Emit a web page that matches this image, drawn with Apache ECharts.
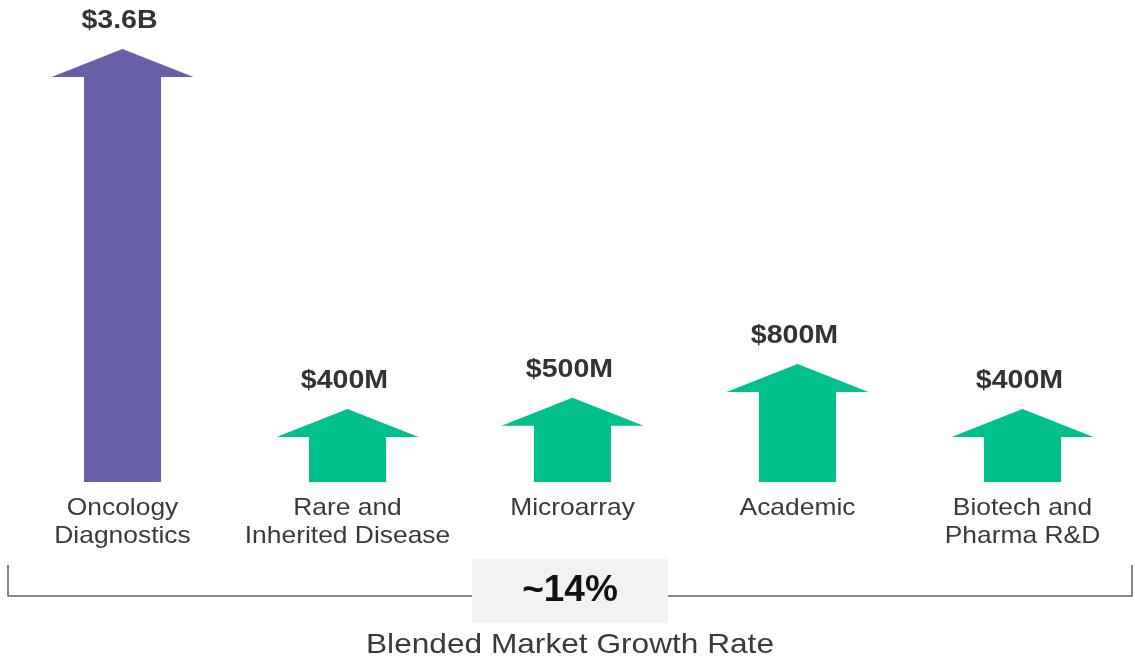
<!DOCTYPE html>
<html>
<head>
<meta charset="utf-8">
<script src="https://cdn.jsdelivr.net/npm/echarts@6/dist/echarts.min.js"></script>
<style>
html,body{margin:0;padding:0;background:#fff;}
#chart{width:1135px;height:660px;}
</style>
</head>
<body>
<div id="chart"></div>
<script>
// Data
const categories = ['Oncology\nDiagnostics', 'Rare and\nInherited Disease', 'Microarray', 'Academic', 'Biotech and\nPharma R&D'];
const values = [3600, 400, 500, 800, 400]; // market size, $M
const valueLabels = ['$3.6B', '$400M', '$500M', '$800M', '$400M'];
const growthRate = '~14%';
const footerText = 'Blended Market Growth Rate';

const PURPLE = '#6760a9';
const GREEN = '#00c08b';
const FONT = '"Liberation Sans", Arial, Helvetica, sans-serif';

const chart = echarts.init(document.getElementById('chart'));

function renderItem(params, api) {
  const idx = api.value(0);
  const v = api.value(1);
  const base = api.coord([idx, 0]);
  const top = api.coord([idx, v]);
  const cx = base[0];
  const shaftHalf = 38.5, headHalf = 71, headH = 28;
  const tipY = top[1] - headH;
  const color = idx === 0 ? PURPLE : GREEN;
  const children = [{
    type: 'polygon',
    shape: { points: [
      [cx - shaftHalf, base[1]],
      [cx - shaftHalf, top[1]],
      [cx - headHalf, top[1]],
      [cx, tipY],
      [cx + headHalf, top[1]],
      [cx + shaftHalf, top[1]],
      [cx + shaftHalf, base[1]]
    ] },
    style: { fill: color }
  }, {
    type: 'text',
    x: cx - 3, y: tipY - 28,
    scaleX: 1.12,
    style: {
      text: valueLabels[idx],
      font: 'bold 25.5px ' + FONT,
      fill: '#333336',
      align: 'center',
      verticalAlign: 'middle'
    }
  }];
  const lines = categories[idx].split('\n');
  lines.forEach(function (ln, i) {
    children.push({
      type: 'text',
      x: cx, y: base[1] + 26.5 + i * 27.5,
      scaleX: 1.1,
      style: {
        text: ln,
        font: '24px ' + FONT,
        fill: '#3a3a3a',
        align: 'center',
        verticalAlign: 'middle'
      }
    });
  });
  return { type: 'group', children: children };
}

chart.setOption({
  animation: false,
  backgroundColor: '#ffffff',
  grid: { left: 10, right: 0, top: 32, bottom: 178 },
  xAxis: {
    type: 'category',
    data: categories,
    show: false
  },
  yAxis: {
    type: 'value',
    min: 0,
    max: 4000,
    show: false
  },
  series: [{
    type: 'custom',
    renderItem: renderItem,
    data: values.map(function (v, i) { return [i, v]; }),
    clip: false
  }],
  graphic: [
    {
      type: 'polyline',
      shape: { points: [[8, 565], [8, 596], [1132, 596], [1132, 565]] },
      style: { stroke: '#858585', lineWidth: 2, fill: null, lineJoin: 'round' }
    },
    {
      type: 'rect',
      shape: { x: 472, y: 559, width: 196, height: 64 },
      style: { fill: '#f2f2f2' }
    },
    {
      type: 'text',
      x: 570, y: 591,
      style: {
        text: growthRate,
        font: 'bold 37px ' + FONT,
        fill: '#111111',
        align: 'center',
        verticalAlign: 'middle'
      }
    },
    {
      type: 'text',
      x: 570, y: 645,
      scaleX: 1.13,
      style: {
        text: footerText,
        font: '28px ' + FONT,
        fill: '#3a3a3a',
        align: 'center',
        verticalAlign: 'middle'
      }
    }
  ]
});
</script>
</body>
</html>
